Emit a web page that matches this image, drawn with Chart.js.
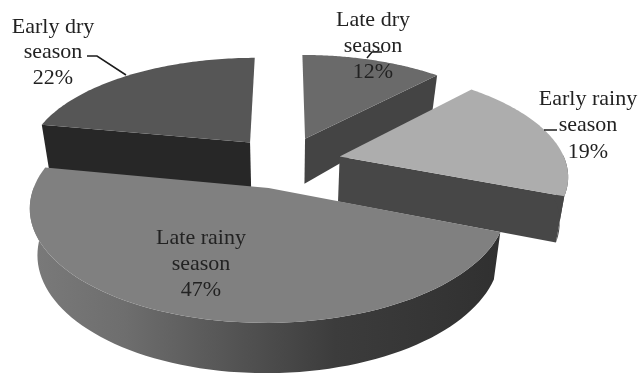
<!DOCTYPE html>
<html>
<head>
<meta charset="utf-8">
<style>
  html, body { margin: 0; padding: 0; background: #fff; }
  canvas { display: block; filter: blur(0.45px); }
</style>
<script src="https://cdn.jsdelivr.net/npm/chart.js@4"></script>
</head>
<body>
<canvas id="chart" width="639" height="373"></canvas>
<script>
const categories = ["Late dry season", "Early rainy season", "Late rainy season", "Early dry season"];
const shares = [12, 19, 47, 22];
const topColors = ["#6a6a6a", "#adadad", "#808080", "#565656"];
const sideColors = ["#444444", "#474747", "#3a3a3a", "#272727"];

// pie plane -> screen, fitted by eye to the reference
const CX = 285, CY = 162, RADIUS = 226, FLAT = 104, PERSP = 0.16;
const EXPLODE = 0.25, DEPTH = 45, SHRINK = 0.97;
const drawOrder = [3, 0, 1, 2];

function project(u, v, down) {
  const s = 1 / (1 - PERSP * v);
  const x = RADIUS * u * s;
  const y = FLAT * v * s;
  if (!down) return [CX + x, CY + y];
  // the slab gets thinner towards the back
  const depth = v > 0 ? DEPTH * Math.sqrt(s) : DEPTH + Math.min(0, v + 0.4) * 18;
  return [CX + x * SHRINK, CY + y + depth];
}

function poly(ctx, pts, fill) {
  ctx.beginPath();
  pts.forEach((p, i) => (i ? ctx.lineTo(p[0], p[1]) : ctx.moveTo(p[0], p[1])));
  ctx.closePath();
  ctx.fillStyle = fill;
  ctx.fill();
}

const pie3d = {
  id: "pie3d",
  beforeDatasetDraw(chart) {
    const ctx = chart.ctx;
    const arcs = chart.getDatasetMeta(0).data;
    drawOrder.forEach((i) => {
      const { startAngle, endAngle } = arcs[i];
      const mid = (startAngle + endAngle) / 2;
      const ou = EXPLODE * Math.cos(mid);
      const ov = EXPLODE * Math.sin(mid);
      const rim = [];
      const front = [];
      const steps = 80;
      for (let k = 0; k <= steps; k++) {
        const a = startAngle + ((endAngle - startAngle) * k) / steps;
        const p = [ou + Math.cos(a), ov + Math.sin(a)];
        rim.push(p);
        if (Math.sin(a) > -0.02) front.push(p);
      }
      const top = rim.map((p) => project(p[0], p[1], false));
      const apexTop = project(ou, ov, false);
      const apexBottom = project(ou, ov, true);
      const first = rim[0];
      const last = rim[steps];

      // only the cut faces turned to the viewer
      if (-Math.cos(startAngle) > 0.01) {
        poly(ctx, [apexTop, top[0], project(first[0], first[1], true), apexBottom], sideColors[i]);
      }
      if (Math.cos(endAngle) > 0.01) {
        poly(ctx, [apexTop, top[steps], project(last[0], last[1], true), apexBottom], sideColors[i]);
      }
      if (front.length > 1) {
        let rimFill = sideColors[i];
        if (categories[i] === "Late rainy season") {
          const g = ctx.createLinearGradient(30, 0, 500, 0);
          g.addColorStop(0, "#7a7a7a");
          g.addColorStop(0.2, "#6e6e6e");
          g.addColorStop(0.45, "#525252");
          g.addColorStop(0.65, "#3c3c3c");
          g.addColorStop(1, "#303030");
          rimFill = g;
        }
        const upper = front.map((p) => project(p[0], p[1], false));
        const lower = front.map((p) => project(p[0], p[1], true));
        poly(ctx, upper.concat(lower.reverse()), rimFill);
      }
      poly(ctx, [apexTop].concat(top), arcs[i].options.backgroundColor);
    });
    return false;
  },
  afterDatasetsDraw(chart) {
    const ctx = chart.ctx;
    ctx.save();
    ctx.strokeStyle = "#1c1c1c";
    ctx.lineWidth = 1.5;
    [
      [[87, 56], [97, 56], [126, 75]],
      [[382, 52], [372, 52], [367, 58]],
      [[544, 130], [557, 130]],
    ].forEach((line) => {
      ctx.beginPath();
      line.forEach((p, i) => (i ? ctx.lineTo(p[0], p[1]) : ctx.moveTo(p[0], p[1])));
      ctx.stroke();
    });
    ctx.fillStyle = "#222";
    ctx.font = '22px "Liberation Serif"';
    ctx.textAlign = "center";
    ctx.textBaseline = "middle";
    const spots = [[373, 20, 26], [588, 99, 26.5], [201, 238, 26], [53, 27, 25.5]];
    categories.forEach((name, i) => {
      const words = name.split(" ");
      const lines = [words.slice(0, 2).join(" "), words[2], shares[i] + "%"];
      lines.forEach((t, n) => ctx.fillText(t, spots[i][0], spots[i][1] + n * spots[i][2]));
    });
    ctx.restore();
  },
};

new Chart(document.getElementById("chart"), {
  type: "pie",
  data: {
    labels: categories,
    datasets: [{ data: shares, backgroundColor: topColors, borderWidth: 0 }],
  },
  options: {
    responsive: false,
    animation: false,
    plugins: { legend: { display: false }, tooltip: { enabled: false } },
  },
  plugins: [pie3d],
});
</script>
</body>
</html>
